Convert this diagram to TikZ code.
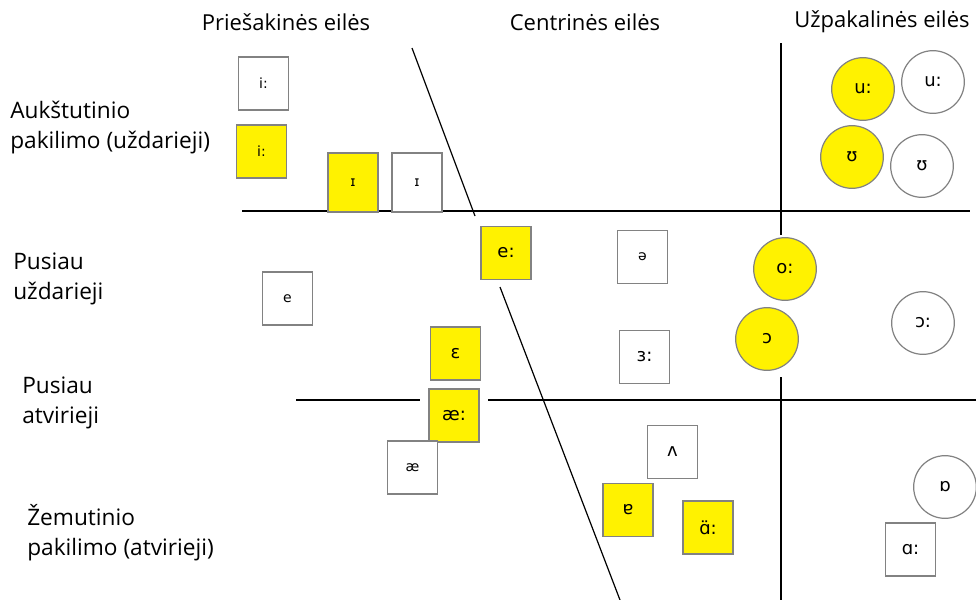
\documentclass[tikz,border=0pt]{standalone}
\usepackage{fontspec}
\setmainfont{Open Sans}
\newfontfamily\ipafont{DejaVu Sans}
\definecolor{vowelyellow}{RGB}{255,242,0}
\definecolor{rimgray}{RGB}{130,130,130}

\begin{document}
\begin{tikzpicture}[x=0.75pt,y=-0.75pt,
	vbox/.style={draw=rimgray,line width=1.1pt,inner sep=0pt,minimum width=37.5pt,minimum height=39.5pt,font=\ipafont\fontsize{13.5}{15}\selectfont},
	vcirc/.style={circle,draw=rimgray,line width=0.9pt,inner sep=0pt,minimum size=47pt,font=\ipafont\fontsize{13.5}{15}\selectfont},
	lit/.style={fill=vowelyellow},
	unlit/.style={fill=white},
	small/.style={font=\ipafont\fontsize{10.5}{12}\selectfont},
	axis/.style={line width=0.9pt},
	head/.style={font=\fontsize{16.5}{19}\selectfont},
	lbl/.style={align=left,anchor=west,inner sep=0pt,font=\fontsize{17}{22.5}\selectfont}]
	\useasboundingbox (0,0) rectangle (976,600);

	% row and column borders
	\coordinate (h1a) at (242,211);
	\coordinate (h1b) at (970,211);
	\coordinate (h2a) at (296,400);
	\coordinate (h2b) at (420,400);
	\coordinate (h2c) at (488,400);
	\coordinate (h2d) at (976,400);
	\coordinate (v1a) at (781,43);
	\coordinate (v1b) at (781,235);
	\coordinate (v1c) at (781,377);
	\coordinate (v1d) at (781,600);
	\coordinate (d1a) at (412,48);
	\coordinate (d1b) at (475,216);
	\coordinate (d1c) at (500,287);
	\coordinate (d1d) at (620,600);
	\draw[axis] (h1a) -- (h1b);
	\draw[axis] (h2a) -- (h2b) (h2c) -- (h2d);
	\draw[axis] (v1a) -- (v1b) (v1c) -- (v1d);
	\draw[axis] (d1a) -- (d1b) (d1c) -- (d1d);

	% headings
	\node at (286,22) [head] (front) {Priešakinės eilės};
	\node at (585,22) [head] (central) {Centrinės eilės};
	\node at (882,22) [head] (back) {Užpakalinės eilės};
	\node at (10,128) [lbl] (high) {Aukštutinio\\pakilimo (uždarieji)};
	\node at (13,279) [lbl] (midhigh) {Pusiau\\uždarieji};
	\node at (22,403) [lbl] (midlow) {Pusiau\\atvirieji};
	\node at (27,533) [lbl] (low) {Žemutinio\\pakilimo (atvirieji)};

	% front vowels
	\node at (263.5,83.5) [vbox,unlit,small] (ilongw) {i:};
	\node at (261.5,151.5) [vbox,lit,small] (ilongy) {i:};
	\node at (353,182.5) [vbox,lit,small,minimum height=44pt] (ishorty) {ɪ};
	\node at (417,182.5) [vbox,unlit,small,minimum height=44pt] (ishortw) {ɪ};
	\node at (506,253) [vbox,lit] (elong) {e:};
	\node at (287.5,298.5) [vbox,unlit,small] (eshort) {e};
	\node at (455.5,353.5) [vbox,lit] (epsilon) {ɛ};
	\node at (454,415.5) [vbox,lit] (aelong) {æ:};
	\node at (412.5,467.5) [vbox,unlit,small] (aeshort) {æ};

	% central vowels
	\node at (642.5,257) [vbox,unlit,small] (schwa) {ə};
	\node at (644.5,357) [vbox,unlit] (erlong) {ɜ:};
	\node at (672.5,452) [vbox,unlit] (wedge) {ʌ};
	\node at (628,510) [vbox,lit] (turneda) {ɐ};
	\node at (708,527.5) [vbox,lit] (alongy) {ɑ̈:};

	% back vowels
	\node at (863,89) [vcirc,lit] (ulongy) {u:};
	\node at (933,82) [vcirc,unlit] (ulongw) {u:};
	\node at (852,157) [vcirc,lit] (ushorty) {ʊ};
	\node at (922,166) [vcirc,unlit] (ushortw) {ʊ};
	\node at (785,269) [vcirc,lit] (olong) {o:};
	\node at (767,339) [vcirc,lit] (oshort) {ɔ};
	\node at (923,323) [vcirc,unlit] (openolong) {ɔ:};
	\node at (945,487) [vcirc,unlit] (roundeda) {ɒ};
	\node at (910.5,549.5) [vbox,unlit] (alongw) {ɑ:};
\end{tikzpicture}
\end{document}
